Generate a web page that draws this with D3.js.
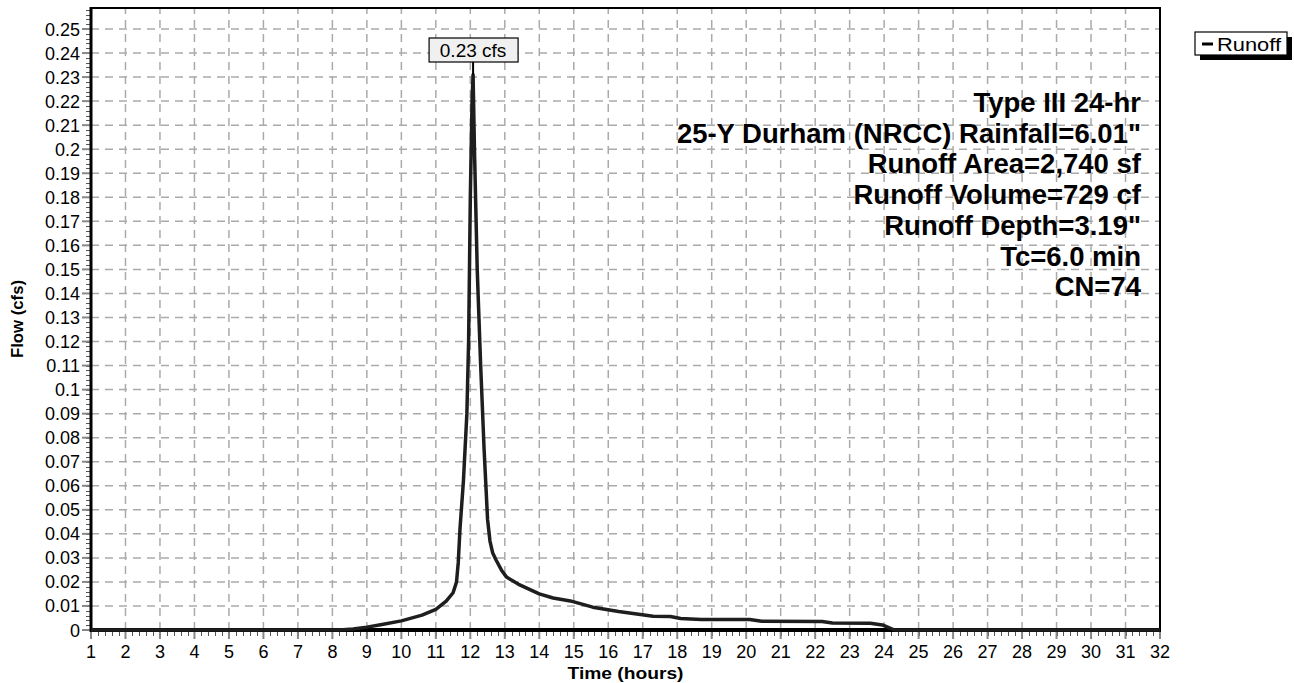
<!DOCTYPE html>
<html lang="en">
<head>
  <meta charset="UTF-8" />
  <title>Runoff Hydrograph</title>
  <script src="https://d3js.org/d3.v7.min.js"></script>
  <style>
    body {
      margin: 0;
      padding: 0;
      background: #fff;
      font-family: "Liberation Sans", Arial, sans-serif;
    }
  </style>
</head>
<body>

<div id="chart"></div>

<script>
  // Hydrograph (hours, cfs)
  const hours = [1, 8.2, 8.6, 9.0, 9.4, 10.0, 10.6, 11.0, 11.3, 11.5, 11.6, 11.65, 11.7, 11.8, 11.9,
    11.95, 12.0, 12.05, 12.08, 12.12, 12.2, 12.3, 12.4, 12.5, 12.57, 12.65, 12.75, 12.9, 13.05,
    13.4, 14.0, 14.4, 14.9, 15.55, 16.3, 17.3, 17.8, 18.1, 18.7, 20.1, 20.45, 22.2, 22.5, 23.6,
    23.95, 24.3, 32];
  const flow = [0, 0, 0.0004, 0.0012, 0.0022, 0.0038, 0.0062, 0.0086, 0.012, 0.0155, 0.020, 0.028,
    0.042, 0.062, 0.09, 0.12, 0.18, 0.22, 0.231, 0.20, 0.15, 0.11, 0.075, 0.046, 0.037, 0.032,
    0.029, 0.025, 0.022, 0.019, 0.015, 0.0133, 0.0121, 0.0095, 0.0077, 0.0057, 0.0056, 0.0048,
    0.0044, 0.0044, 0.0036, 0.0035, 0.0029, 0.0028, 0.0021, 0, 0];

  const xTicks = d3.range(1, 33);
  const yTicks = d3.range(0, 26).map(i => i / 100);
  const yTickLabels = ["0", "0.01", "0.02", "0.03", "0.04", "0.05", "0.06", "0.07", "0.08", "0.09",
    "0.1", "0.11", "0.12", "0.13", "0.14", "0.15", "0.16", "0.17", "0.18", "0.19",
    "0.2", "0.21", "0.22", "0.23", "0.24", "0.25"];

  const peakLabel = "0.23 cfs";
  const infoLines = ["Type III 24-hr", "25-Y Durham (NRCC) Rainfall=6.01\"", "Runoff Area=2,740 sf",
    "Runoff Volume=729 cf", "Runoff Depth=3.19\"", "Tc=6.0 min", "CN=74"];
  const seriesName = "Runoff";

  const data = hours.map((h, i) => ({ t: h, q: flow[i] }));

  const width = 1294, height = 683;
  const plotL = 91, plotR = 1160, plotT = 8, plotB = 630;

  const svg = d3.select("#chart").append("svg")
    .attr("width", width)
    .attr("height", height);

  const x = d3.scaleLinear().domain([1, 32]).range([plotL, plotR]);
  const y = d3.scaleLinear().domain([0, 0.25]).range([plotB, 29]);
  const yMax = y.invert(plotT);

  // grid (dashed)
  const grid = svg.append("g")
    .attr("stroke", "#aaa")
    .attr("stroke-width", 1.5)
    .attr("stroke-dasharray", "8,6");
  grid.selectAll(".vg").data(xTicks.slice(1, -1)).enter().append("line")
    .attr("x1", d => x(d)).attr("x2", d => x(d))
    .attr("y1", plotB).attr("y2", plotT);
  grid.selectAll(".hg").data(yTicks.slice(1)).enter().append("line")
    .attr("x1", plotL).attr("x2", plotR)
    .attr("y1", d => y(d)).attr("y2", d => y(d));

  // minor ticks
  const minor = svg.append("g").attr("stroke", "#555").attr("stroke-width", 1);
  minor.selectAll(".my").data(d3.range(0, 130).map(i => i * 0.002).filter(v => v <= yMax)).enter()
    .append("line")
    .attr("x1", plotL - 5).attr("x2", plotL)
    .attr("y1", d => Math.round(y(d)) + 0.5).attr("y2", d => Math.round(y(d)) + 0.5);
  minor.selectAll(".mx").data(d3.range(0, 156).map(i => 1 + i * 0.2)).enter()
    .append("line")
    .attr("x1", d => Math.round(x(d)) + 0.5).attr("x2", d => Math.round(x(d)) + 0.5)
    .attr("y1", plotB).attr("y2", plotB + 6);

  // major ticks
  const major = svg.append("g").attr("stroke", "#888").attr("stroke-width", 2);
  major.selectAll(".ty").data(yTicks).enter().append("line")
    .attr("x1", plotL - 9).attr("x2", plotL)
    .attr("y1", d => y(d)).attr("y2", d => y(d));
  major.selectAll(".tx").data(xTicks).enter().append("line")
    .attr("x1", d => x(d)).attr("x2", d => x(d))
    .attr("y1", plotB).attr("y2", plotB + 9);

  // frame
  svg.append("rect")
    .attr("x", plotL).attr("y", plotT)
    .attr("width", plotR - plotL).attr("height", plotB - plotT)
    .attr("fill", "none").attr("stroke", "#000").attr("stroke-width", 2);
  svg.append("line").attr("x1", plotL).attr("x2", plotL).attr("y1", plotT - 1).attr("y2", plotB + 2)
    .attr("stroke", "#000").attr("stroke-width", 3);
  svg.append("line").attr("x1", plotL - 1).attr("x2", plotR + 1).attr("y1", plotB).attr("y2", plotB)
    .attr("stroke", "#000").attr("stroke-width", 4);

  // tick labels
  svg.append("g").selectAll("text").data(yTicks).enter().append("text")
    .attr("x", plotL - 11)
    .attr("y", d => y(d) + 6.5)
    .attr("text-anchor", "end")
    .style("font-size", "18px")
    .text((d, i) => yTickLabels[i]);
  svg.append("g").selectAll("text").data(xTicks).enter().append("text")
    .attr("x", d => x(d))
    .attr("y", 658)
    .attr("text-anchor", "middle")
    .style("font-size", "18px")
    .text(d => d);

  // axis titles (reference text runs a bit wide)
  svg.append("text")
    .attr("transform", `translate(23, ${(plotT + plotB) / 2}) rotate(-90)`)
    .attr("text-anchor", "middle")
    .attr("textLength", 78).attr("lengthAdjust", "spacingAndGlyphs")
    .style("font-size", "16px").style("font-weight", "bold")
    .text("Flow  (cfs)");
  svg.append("text")
    .attr("x", (plotL + plotR) / 2).attr("y", 679)
    .attr("text-anchor", "middle")
    .attr("textLength", 116).attr("lengthAdjust", "spacingAndGlyphs")
    .style("font-size", "16px").style("font-weight", "bold")
    .text("Time  (hours)");

  // hydrograph
  const line = d3.line().x(d => x(d.t)).y(d => y(d.q));
  svg.append("path")
    .datum(data)
    .attr("fill", "none")
    .attr("stroke", "#1e1e1e")
    .attr("stroke-width", 3.5)
    .attr("stroke-linejoin", "round")
    .attr("d", line);

  // peak label
  const peak = data.reduce((a, b) => (b.q > a.q ? b : a));
  const px = x(peak.t);
  svg.append("line")
    .attr("x1", px).attr("x2", px)
    .attr("y1", 62).attr("y2", y(peak.q))
    .attr("stroke", "#000").attr("stroke-width", 2);
  svg.append("rect")
    .attr("x", px - 44).attr("y", 38)
    .attr("width", 89).attr("height", 24)
    .attr("fill", "#f0f0f0").attr("stroke", "#000").attr("stroke-width", 1.2);
  svg.append("text")
    .attr("x", px).attr("y", 57)
    .attr("text-anchor", "middle")
    .style("font-size", "19px")
    .text(peakLabel);

  // info block
  svg.append("g").selectAll("text").data(infoLines).enter().append("text")
    .attr("x", 1141)
    .attr("y", (d, i) => 112 + i * 30.7)
    .attr("text-anchor", "end")
    .style("font-size", "27.5px").style("font-weight", "bold")
    .text(d => d);

  // legend
  const lg = svg.append("g").attr("transform", "translate(1195, 32)");
  lg.append("rect").attr("x", 5).attr("y", 5).attr("width", 92).attr("height", 23).attr("fill", "#000");
  lg.append("rect").attr("x", 0).attr("y", 0).attr("width", 92).attr("height", 23)
    .attr("fill", "#fff").attr("stroke", "#000").attr("stroke-width", 1.2);
  lg.append("line").attr("x1", 7).attr("x2", 18).attr("y1", 12).attr("y2", 12)
    .attr("stroke", "#000").attr("stroke-width", 3);
  lg.append("text").attr("x", 22).attr("y", 18.5)
    .attr("textLength", 64).attr("lengthAdjust", "spacingAndGlyphs")
    .style("font-size", "18px").text(seriesName);
</script>
</body>
</html>
